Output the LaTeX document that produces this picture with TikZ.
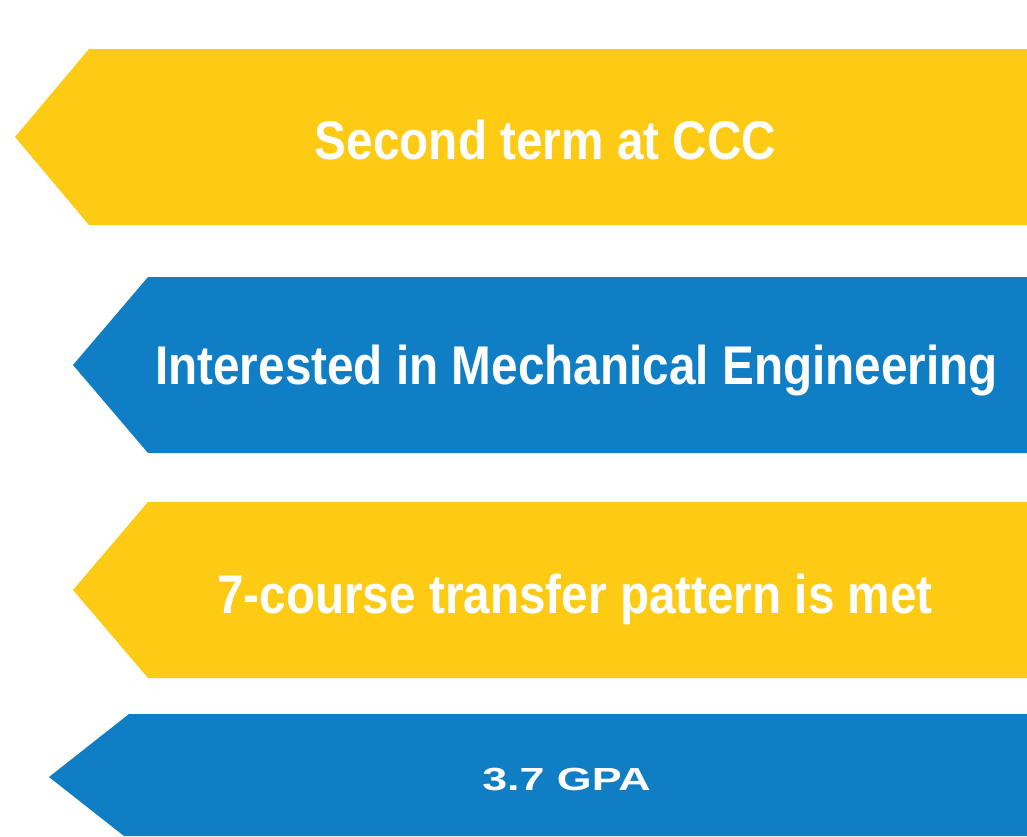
\documentclass[tikz,border=0pt]{standalone}
\usepackage{fontspec}
\usepackage{tikz}
\usetikzlibrary{calc,positioning}
\newfontfamily\bandfont[FakeStretch=0.875]{Liberation Sans}
\newfontfamily\widefont[FakeStretch=1.4]{Liberation Sans}
\definecolor{bandyellow}{RGB}{253,202,20}
\definecolor{bandblue}{RGB}{16,126,196}

\begin{document}
\begin{tikzpicture}[x=1pt, y=-1pt,
  every node/.style={inner sep=0pt, text=white},
  lbl/.style={anchor=base, font=\bandfont\bfseries\fontsize{54.5}{60}\selectfont},
  small lbl/.style={anchor=base, font=\widefont\bfseries\fontsize{32}{36}\selectfont}]
  \useasboundingbox (0,0) rectangle (1027,836);

  % the four bands, all pointing left
  \fill[bandyellow] (15,137) -- (89,49) -- (1027,49) -- (1027,225) -- (89,225) -- cycle;
  \fill[bandblue] (73,365) -- (148,277) -- (1027,277) -- (1027,453) -- (148,453) -- cycle;
  \fill[bandyellow] (73,590) -- (148,502) -- (1027,502) -- (1027,678) -- (148,678) -- cycle;
  \fill[bandblue] (49,777) -- (129,714) -- (1027,714) -- (1027,836) -- (124,836) -- cycle;

  \node[lbl] (term) at (545.5,159) {Second term at CCC};
  \node[lbl] (major) at (576.5,384) {Interested in Mechanical Engineering};
  \node[lbl] (pattern) at (575,613) {7-course transfer pattern is met};
  \node[small lbl] (gpa) at (566.5,790) {3.7 GPA};
\end{tikzpicture}
\end{document}
